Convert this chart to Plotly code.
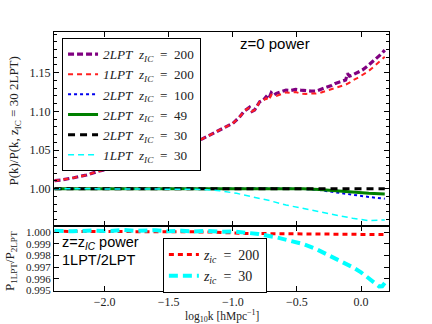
import plotly.graph_objects as go

# ---------------- data ----------------
# top panel: P(k)/P(k, z_IC=30 2LPT) at z=0
x_2lpt200 = [-2.39, -2.34, -2.24, -2.14, -2.06, -1.95, -1.88, -1.80, -1.72, -1.62, -1.51, -1.41,
             -1.33, -1.23, -1.10, -1.00, -0.95, -0.91, -0.87, -0.85, -0.83, -0.79, -0.76, -0.74,
             -0.72, -0.70, -0.68, -0.66, -0.62, -0.585, -0.55, -0.51, -0.47, -0.43, -0.39, -0.35,
             -0.31, -0.27, -0.23, -0.20, -0.16, -0.12, -0.106, -0.09, -0.067, -0.03, 0.01, 0.05,
             0.09, 0.13, 0.16, 0.185]
y_2lpt200 = [1.0105, 1.0112, 1.0142, 1.0177, 1.0220, 1.0264, 1.0328, 1.0393, 1.0422, 1.0444, 1.0478, 1.0522,
             1.0565, 1.0651, 1.0758, 1.0845, 1.0922, 1.1004, 1.1052, 1.1000, 1.1017, 1.1124, 1.1150, 1.1189,
             1.1160, 1.1240, 1.1210, 1.1233, 1.1255, 1.1275, 1.1270, 1.1284, 1.1275, 1.1266, 1.1262, 1.1262,
             1.1285, 1.1310, 1.1335, 1.1362, 1.1380, 1.1404, 1.1490, 1.1455, 1.1469, 1.1495, 1.1534, 1.1585,
             1.1641, 1.1700, 1.1745, 1.1792]

x_1lpt200 = [-2.39, -2.34, -2.24, -2.14, -2.06, -1.95, -1.88, -1.80, -1.72, -1.62, -1.51, -1.41,
             -1.33, -1.23, -1.10, -1.00, -0.95, -0.91, -0.87, -0.85, -0.83, -0.79, -0.76, -0.74,
             -0.72, -0.70, -0.66, -0.62, -0.585, -0.55, -0.51, -0.47, -0.43, -0.39, -0.35, -0.31,
             -0.27, -0.23, -0.20, -0.16, -0.12, -0.09, -0.067, -0.03, 0.01, 0.05, 0.09, 0.13,
             0.16, 0.185]
y_1lpt200 = [1.0105, 1.0112, 1.0142, 1.0177, 1.0220, 1.0264, 1.0328, 1.0393, 1.0422, 1.0444, 1.0478, 1.0522,
             1.0565, 1.0651, 1.0758, 1.0845, 1.0922, 1.1004, 1.1052, 1.1000, 1.1017, 1.1124, 1.1140, 1.1170,
             1.1140, 1.1215, 1.1200, 1.1225, 1.1245, 1.1240, 1.1250, 1.1230, 1.1225, 1.1230, 1.1232, 1.1245,
             1.1265, 1.1285, 1.1305, 1.1325, 1.1345, 1.1370, 1.1400, 1.1430, 1.1465, 1.1510, 1.1565, 1.1620,
             1.1665, 1.1705]

x_2lpt100 = [-2.39, -1.9, -1.5, -1.0, -0.6, -0.45, -0.325, -0.2, -0.067, 0.06, 0.185]
y_2lpt100 = [1.0000, 1.0004, 1.0005, 1.0006, 1.0005, 0.9997, 0.9983, 0.9953, 0.9919, 0.9893, 0.9871]

x_2lpt49 = [-2.39, -1.5, -1.0, -0.6, -0.45, -0.325, -0.2, -0.067, 0.06, 0.185]
y_2lpt49 = [1.0000, 1.0000, 1.0000, 1.0000, 0.9999, 0.9990, 0.9972, 0.9952, 0.9940, 0.9932]

x_2lpt30 = [-2.39, -1.5, -1.0, -0.5, 0.0, 0.185]
y_2lpt30 = [1.0, 1.0, 1.0, 1.0, 1.0, 1.0]

x_1lpt30 = [-2.39, -1.5, -1.3, -1.2, -1.103, -0.97, -0.844, -0.71, -0.585, -0.45, -0.326, -0.2,
            -0.067, 0.063, 0.13, 0.185]
y_1lpt30 = [1.0000, 0.9998, 0.9993, 0.9985, 0.9974, 0.9940, 0.9897, 0.9845, 0.9789, 0.9740, 0.9703, 0.9660,
            0.9618, 0.9587, 0.9587, 0.9596]

# bottom panel: P_1LPT / P_2LPT at z = z_IC
x_ic200 = [-2.39, -1.8, -1.2, -0.9, -0.6, -0.3, 0.0, 0.185]
y_ic200 = [1.00008, 1.00006, 1.00003, 0.99990, 0.99986, 0.99985, 0.99984, 0.99980]

x_ic30 = [-2.39, -2.25, -2.1, -1.95, -1.85, -1.75, -1.6, -1.5, -1.4, -1.3, -1.2, -1.1, -1.0,
          -0.9, -0.8, -0.663, -0.55, -0.456, -0.35, -0.248, -0.15, -0.067, 0.0, 0.063, 0.11,
          0.141, 0.165, 0.185]
y_ic30 = [1.00012, 1.00008, 1.00015, 1.00010, 1.00020, 1.00012, 1.00018, 1.00008, 1.00014, 1.00006,
          1.00012, 1.00004, 1.00008, 1.00000, 0.99985, 0.99957, 0.99930, 0.99900, 0.99855, 0.99800,
          0.99745, 0.99700, 0.99655, 0.99600, 0.99555, 0.99534, 0.99535, 0.99563]

top_yticks = [1.00, 1.05, 1.10, 1.15]
bot_yticks = [0.995, 0.996, 0.997, 0.998, 0.999, 1.000]
x_ticks = [-2.0, -1.5, -1.0, -0.5, 0.0]

SERIF = "Liberation Serif"
SANS = "Liberation Sans"
SP = "\u2002"

fig = go.Figure()

def add(x, y, name, color, width, dash, xa, ya, legend):
    fig.add_trace(go.Scatter(x=x, y=y, mode="lines", name=name,
                             line=dict(color=color, width=width, dash=dash),
                             xaxis=xa, yaxis=ya, legend=legend))

def lab(kind, z):
    return f"<i>{kind}{SP}z<sub>IC</sub></i>{SP}={SP}{z}"

add(x_2lpt200, y_2lpt200, lab("2LPT", 200), "#800080", 3.2, "6px,3px", "x", "y", "legend")
add(x_1lpt200, y_1lpt200, lab("1LPT", 200), "#ff2020", 2, "5px,4px", "x", "y", "legend")
add(x_2lpt100, y_2lpt100, lab("2LPT", 100), "#0000ee", 2, "dot", "x", "y", "legend")
add(x_2lpt49, y_2lpt49, lab("2LPT", 49), "#008000", 3, "solid", "x", "y", "legend")
add(x_2lpt30, y_2lpt30, lab("2LPT", 30), "#000000", 3, "7px,5px", "x", "y", "legend")
add(x_1lpt30, y_1lpt30, lab("1LPT", 30), "#00ffff", 1.5, "6px,4px", "x", "y", "legend")

add(x_ic200, y_ic200, f"<i>z<sub>ic</sub></i>{SP}={SP}200", "#ff0000", 3, "5px,4px", "x2", "y2", "legend2")
add(x_ic30, y_ic30, f"<i>z<sub>ic</sub></i>{SP}={SP}30", "#00ffff", 4, "9px,5px", "x2", "y2", "legend2")

axis_common = dict(showline=True, linecolor="black", linewidth=1, mirror="ticks",
                   ticks="inside", tickcolor="black", showgrid=False, zeroline=False,
                   automargin=False)
tf12 = dict(family=SERIF, size=12, color="#222")
tf11 = dict(family=SERIF, size=11, color="#222")

fig.update_layout(
    width=432, height=324,
    margin=dict(l=54, r=43, t=32, b=33, autoexpand=False),
    paper_bgcolor="white", plot_bgcolor="white",
    xaxis=dict(domain=[0, 1], anchor="y", range=[-2.394, 0.218], tickvals=x_ticks,
               showticklabels=False, ticklen=5, tickfont=tf12, **axis_common),
    yaxis=dict(domain=[0.251, 1], anchor="x", range=[0.9518, 1.2026], tickvals=top_yticks,
               tickformat=".2f", ticklen=5, tickfont=tf12,
               minor=dict(dtick=0.01, ticks="inside", ticklen=3, tickcolor="black"),
               **axis_common),
    xaxis2=dict(domain=[0, 1], anchor="y2", matches="x", range=[-2.394, 0.218], tickvals=x_ticks,
                tickformat=".1f", ticklen=5, tickfont=tf12, **axis_common),
    yaxis2=dict(domain=[0, 0.251], anchor="x2", range=[0.99494, 1.00054], tickvals=bot_yticks,
                tickformat=".3f", ticklen=5, tickfont=tf11, **axis_common),
    legend=dict(x=0.024, y=0.977, xanchor="left", yanchor="top", bgcolor="white",
                bordercolor="black", borderwidth=1, itemwidth=30, tracegroupgap=0,
                font=dict(family=SERIF, size=13.2, color="#222")),
    legend2=dict(x=0.325, y=0.2046, xanchor="left", yanchor="top", bgcolor="white",
                 bordercolor="black", borderwidth=1, itemwidth=30,
                 font=dict(family=SERIF, size=14, color="#222")),
    showlegend=True,
)

ann = [
    dict(text="z=0 power", x=0.549, y=0.954, xanchor="left", yanchor="middle",
         font=dict(family=SANS, size=15, color="black")),
    dict(text="z=z<sub><i>IC</i></sub> power", x=0.018, y=0.185, xanchor="left", yanchor="middle",
         font=dict(family=SANS, size=14.5, color="black")),
    dict(text="1LPT/2LPT", x=0.018, y=0.12, xanchor="left", yanchor="middle",
         font=dict(family=SANS, size=14.5, color="black")),
    dict(text="P(k)/P(k, z<sub>IC</sub> = 30 2LPT)", x=-0.118, y=0.656, xanchor="center",
         yanchor="middle", textangle=-90, font=dict(family=SERIF, size=13, color="#222")),
    dict(text="P<sub>1LPT</sub>/P<sub>2LPT</sub>", x=-0.128, y=0.116, xanchor="center",
         yanchor="middle", textangle=-90, font=dict(family=SERIF, size=13, color="#222")),
    dict(text="log<sub>10</sub>k [hMpc<sup>−1</sup>]", x=0.5, y=-0.098, xanchor="center",
         yanchor="middle", font=dict(family=SERIF, size=11.5, color="#222")),
]
for a in ann:
    a.update(xref="paper", yref="paper", showarrow=False)
fig.update_layout(annotations=ann)

fig.write_html("out.html", config={"displayModeBar": False},
               post_script="document.body.style.margin='0px';")
